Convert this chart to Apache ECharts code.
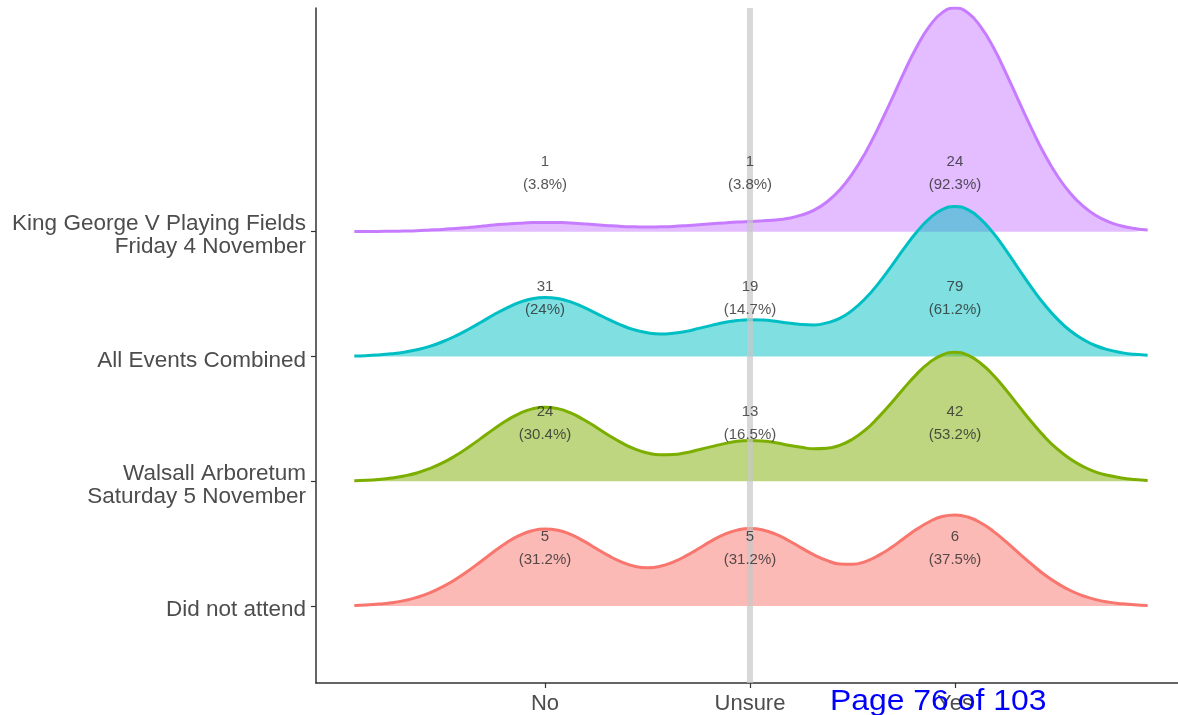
<!DOCTYPE html>
<html>
<head>
<meta charset="utf-8">
<script src="https://cdn.jsdelivr.net/npm/echarts@6/dist/echarts.min.js"></script>
<style>
  html, body { margin: 0; padding: 0; background: #ffffff; }
  #chart { width: 1178px; height: 715px; }
</style>
</head>
<body>
<div id="chart"></div>
<script>
// Groups, bottom to top (ridge index = baseline)
const groups = ['Did not attend', 'Walsall Arboretum\nSaturday 5 November', 'All Events Combined', 'King George V Playing Fields\nFriday 4 November'];
const answerLabels = ['No', 'Unsure', 'Yes'];
const answerPos = [1, 2, 3];

// Sample positions along the answer axis
const xs = [0.07, 0.125, 0.1875, 0.25, 0.3125, 0.375, 0.4375, 0.5, 0.5625, 0.625, 0.6875, 0.75, 0.8125, 0.875, 0.9375, 1.0,
            1.0625, 1.125, 1.1875, 1.25, 1.3125, 1.375, 1.4375, 1.5, 1.5625, 1.625, 1.6875, 1.75, 1.8125, 1.875, 1.9375, 2.0,
            2.0625, 2.125, 2.1875, 2.25, 2.3125, 2.375, 2.4375, 2.5, 2.5625, 2.625, 2.6875, 2.75, 2.8125, 2.875, 2.9375, 3.0,
            3.0625, 3.125, 3.1875, 3.25, 3.3125, 3.375, 3.4375, 3.5, 3.5625, 3.625, 3.6875, 3.75, 3.8125, 3.875, 3.94];

// Ridge heights (in ridge-spacing units)
const densDidNot = [0.005, 0.009, 0.016, 0.027, 0.044, 0.070, 0.106, 0.154, 0.213, 0.282, 0.358, 0.435, 0.507, 0.566, 0.604, 0.618,
                    0.608, 0.574, 0.523, 0.462, 0.402, 0.353, 0.319, 0.307, 0.319, 0.353, 0.402, 0.462, 0.523, 0.574, 0.609, 0.622,
                    0.610, 0.576, 0.526, 0.467, 0.410, 0.366, 0.338, 0.335, 0.357, 0.404, 0.467, 0.542, 0.615, 0.676, 0.718, 0.730,
                    0.714, 0.668, 0.599, 0.514, 0.423, 0.334, 0.251, 0.182, 0.125, 0.083, 0.052, 0.032, 0.019, 0.010, 0.005];
const densWalsall = [0.005, 0.008, 0.015, 0.026, 0.043, 0.067, 0.102, 0.147, 0.204, 0.271, 0.344, 0.418, 0.487, 0.543, 0.580, 0.594,
                     0.582, 0.548, 0.495, 0.433, 0.367, 0.308, 0.259, 0.227, 0.212, 0.214, 0.229, 0.253, 0.278, 0.302, 0.320, 0.326,
                     0.322, 0.309, 0.289, 0.272, 0.260, 0.264, 0.288, 0.337, 0.411, 0.510, 0.623, 0.744, 0.857, 0.951, 1.012, 1.034,
                     1.011, 0.946, 0.849, 0.730, 0.600, 0.473, 0.356, 0.257, 0.178, 0.118, 0.074, 0.046, 0.026, 0.014, 0.007];
const densAll = [0.004, 0.006, 0.012, 0.021, 0.034, 0.054, 0.081, 0.118, 0.163, 0.216, 0.274, 0.334, 0.388, 0.433, 0.463, 0.473,
                 0.464, 0.437, 0.395, 0.346, 0.295, 0.249, 0.213, 0.190, 0.180, 0.186, 0.201, 0.225, 0.249, 0.272, 0.288, 0.294,
                 0.292, 0.282, 0.268, 0.257, 0.253, 0.269, 0.305, 0.371, 0.464, 0.582, 0.718, 0.862, 0.995, 1.105, 1.177, 1.201,
                 1.176, 1.101, 0.988, 0.849, 0.697, 0.550, 0.414, 0.299, 0.206, 0.137, 0.086, 0.053, 0.031, 0.017, 0.009];
const densKing = [0.001, 0.001, 0.002, 0.003, 0.005, 0.008, 0.013, 0.018, 0.026, 0.034, 0.043, 0.053, 0.061, 0.068, 0.073, 0.074,
                  0.073, 0.070, 0.063, 0.056, 0.048, 0.042, 0.039, 0.037, 0.039, 0.042, 0.048, 0.056, 0.063, 0.070, 0.077, 0.082,
                  0.087, 0.093, 0.107, 0.132, 0.172, 0.238, 0.334, 0.465, 0.631, 0.830, 1.046, 1.270, 1.477, 1.644, 1.755, 1.792,
                  1.754, 1.643, 1.475, 1.267, 1.041, 0.821, 0.618, 0.446, 0.308, 0.204, 0.129, 0.079, 0.046, 0.025, 0.013];

// Counts and percentages (No, Unsure, Yes)
const countsDidNot = [5, 5, 6];
const pctDidNot = ['31.2%', '31.2%', '37.5%'];
const countsWalsall = [24, 13, 42];
const pctWalsall = ['30.4%', '16.5%', '53.2%'];
const countsAll = [31, 19, 79];
const pctAll = ['24%', '14.7%', '61.2%'];
const countsKing = [1, 1, 24];
const pctKing = ['3.8%', '3.8%', '92.3%'];

const colors = ['#F8766D', '#7CAE00', '#00BFC4', '#C77CFF'];
const fills = ['rgba(248,118,109,0.5)', 'rgba(124,174,0,0.5)', 'rgba(0,191,196,0.5)', 'rgba(199,124,255,0.5)'];

const densities = [densDidNot, densWalsall, densAll, densKing];
const counts = [countsDidNot, countsWalsall, countsAll, countsKing];
const pcts = [pctDidNot, pctWalsall, pctAll, pctKing];

const Y_MIN = -0.616, Y_MAX = 4.792;
const LABEL_OFFSET = 0.464;

const series = [];
// draw top ridge first, lower ridges on top
for (let g = groups.length - 1; g >= 0; g--) {
  const d = densities[g];
  series.push({
    type: 'line',
    name: groups[g],
    data: xs.map((x, k) => [x, g + (d[k] || 0)]),
    smooth: true,
    symbol: 'none',
    lineStyle: { color: colors[g], width: 3 },
    areaStyle: { color: fills[g], origin: g, opacity: 1 },
    silent: true,
    z: 2
  });
}

// Unsure reference line
series.push({
  type: 'line',
  data: [[2, Y_MIN], [2, Y_MAX]],
  symbol: 'none',
  lineStyle: { color: 'rgba(200,200,200,0.7)', width: 6 },
  silent: true,
  z: 3
});

// Count labels
const labelData = [];
for (let g = 0; g < groups.length; g++) {
  for (let a = 0; a < answerPos.length; a++) {
    labelData.push({ value: [answerPos[a], g + LABEL_OFFSET], label: { formatter: counts[g][a] + '\n(' + pcts[g][a] + ')' } });
  }
}
series.push({
  type: 'scatter',
  data: labelData,
  symbolSize: 0,
  silent: true,
  z: 5,
  label: {
    show: true,
    position: 'inside',
    color: '#2b2b2b',
    fontFamily: 'Liberation Sans, Arial, sans-serif',
    fontSize: 15,
    lineHeight: 23,
    align: 'center',
    verticalAlign: 'middle'
  }
});

const chart = echarts.init(document.getElementById('chart'), null, { renderer: 'canvas' });
chart.setOption({
  animation: false,
  backgroundColor: '#ffffff',
  grid: { left: 316, right: 0, top: 8, bottom: 31, containLabel: false },
  xAxis: {
    type: 'value',
    min: -0.117,
    max: 4.088,
    splitLine: { show: false },
    axisLine: { show: true, onZero: false, lineStyle: { color: '#333333', width: 1.5 } },
    axisTick: { show: true, customValues: answerPos, length: 5, lineStyle: { color: '#333333', width: 1.2 } },
    axisLabel: {
      customValues: answerPos,
      formatter: v => answerLabels[Math.round(v) - 1] || '',
      color: '#4d4d4d',
      fontFamily: 'Liberation Sans, Arial, sans-serif',
      fontSize: 22,
      margin: 10
    }
  },
  yAxis: {
    type: 'value',
    min: Y_MIN,
    max: Y_MAX,
    splitLine: { show: false },
    axisLine: { show: true, onZero: false, lineStyle: { color: '#333333', width: 1.5 } },
    axisTick: { show: true, customValues: [0, 1, 2, 3], length: 5, lineStyle: { color: '#333333', width: 1.2 } },
    axisLabel: {
      customValues: [0, 1, 2, 3],
      formatter: v => (groups[Math.round(v)] || '').split('\n').map(s => '{t|' + s + '}').join('\n'),
      padding: [8, 0, 0, 0],
      align: 'right',
      margin: 10,
      rich: {
        t: {
          color: '#4d4d4d',
          fontFamily: 'Liberation Sans, Arial, sans-serif',
          fontSize: 22.5,
          lineHeight: 23,
          align: 'right'
        }
      }
    }
  },
  graphic: [{
    type: 'text',
    left: 830,
    top: 687,
    z: 100,
    scaleX: 1.1,
    originX: 0,
    style: {
      text: 'Page 76 of 103',
      fill: '#0000ff',
      font: '29px "Liberation Sans", Arial, sans-serif'
    }
  }],
  series: series
});
</script>
</body>
</html>
